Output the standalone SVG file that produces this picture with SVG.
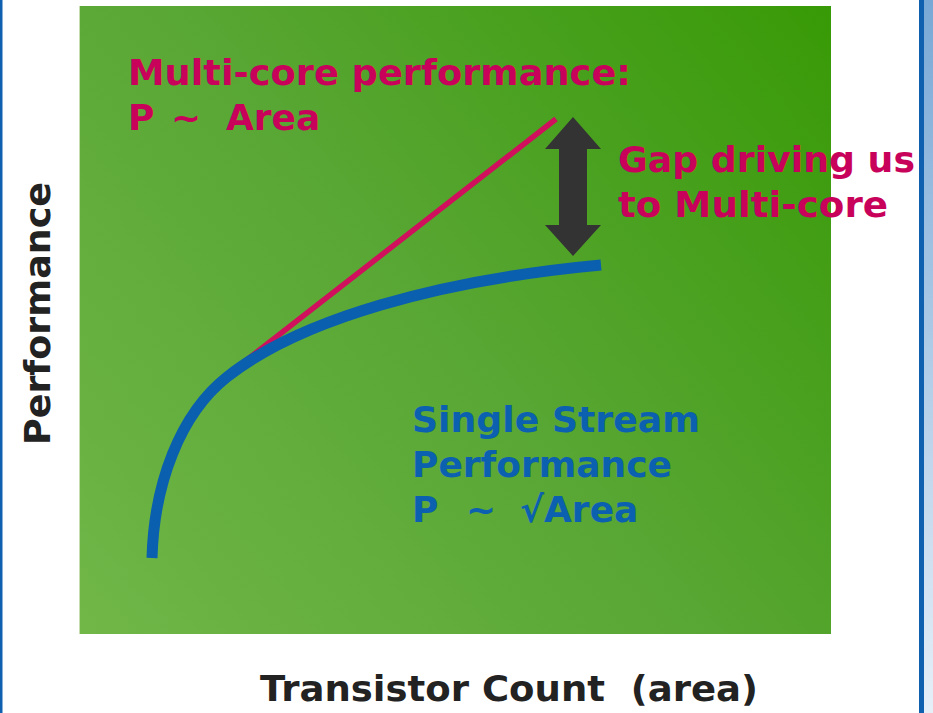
<svg xmlns="http://www.w3.org/2000/svg" width="933" height="713" viewBox="0 0 933 713">
<defs>
<linearGradient id="bg" gradientUnits="userSpaceOnUse" x1="80" y1="634" x2="831" y2="6">
<stop offset="0" stop-color="#70b748"/>
<stop offset="0.5" stop-color="#58a633"/>
<stop offset="1" stop-color="#389a06"/>
</linearGradient>
<linearGradient id="edge" x1="0" y1="0" x2="0" y2="1">
<stop offset="0" stop-color="#78a8d6"/>
<stop offset="1" stop-color="#e6eff8"/>
</linearGradient>
<style>
.t{font-family:"DejaVu Sans","Verdana",sans-serif;font-weight:bold;font-size:36px}
.red{fill:#c8025a}
.blue{fill:#0c60b0}
.dark{fill:#222222}
</style>
</defs>
<rect x="0" y="0" width="933" height="713" fill="#ffffff"/>
<rect x="0" y="0" width="2.5" height="713" fill="#1060b0"/>
<rect x="919" y="0" width="5" height="713" fill="#1060b0"/>
<rect x="924" y="0" width="9" height="713" fill="url(#edge)"/>
<g id="plot">
<rect x="79" y="6" width="1" height="628" fill="#c4dcae"/>
<rect x="80" y="6" width="751" height="628" fill="url(#bg)"/>
</g>
<g id="connectors">
<line id="multicore-line" x1="230" y1="373" x2="556" y2="119" stroke="#d0105c" stroke-width="5.5"/>
<path id="single-curve" d="M152,558 C154,484 180,414 227,377 C300,319 440,280 601,265" fill="none" stroke="#0a5fae" stroke-width="11"/>
</g>
<g id="gap-arrow">
<polygon points="573,117 545,149 559,149 559,225 545,225 573,256 601,225 587,225 587,149 601,149" fill="#333333"/>
</g>
<g id="label-multicore">
<text class="t red" x="128" y="85" textLength="503" lengthAdjust="spacingAndGlyphs">Multi-core performance:</text>
<text class="t red" y="130"><tspan x="128">P</tspan><tspan x="171">~</tspan><tspan x="226">Area</tspan></text>
</g>
<g id="label-gap">
<text class="t red" x="618" y="172" textLength="297" lengthAdjust="spacingAndGlyphs">Gap driving us</text>
<text class="t red" x="618" y="217" textLength="270" lengthAdjust="spacingAndGlyphs">to Multi-core</text>
</g>
<g id="label-single">
<text class="t blue" x="412" y="432" textLength="288" lengthAdjust="spacingAndGlyphs">Single Stream</text>
<text class="t blue" x="412" y="477">Performance</text>
<text class="t blue" y="522"><tspan x="412">P</tspan><tspan x="466">~</tspan><tspan x="520">√Area</tspan></text>
</g>
<g id="axis-y">
<text class="t dark" transform="translate(50,445) rotate(-90)" x="0" y="0" textLength="263" lengthAdjust="spacingAndGlyphs">Performance</text>
</g>
<g id="axis-x">
<text class="t dark" x="260" y="701" textLength="498" lengthAdjust="spacingAndGlyphs" xml:space="preserve">Transistor Count  (area)</text>
</g>
</svg>
